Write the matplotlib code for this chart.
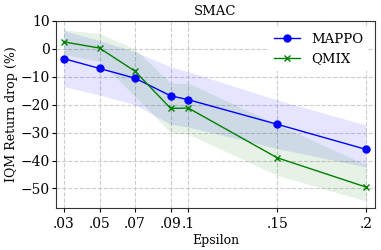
import matplotlib
matplotlib.use("Agg")
import matplotlib.pyplot as plt

eps = [0.03, 0.05, 0.07, 0.09, 0.1, 0.15, 0.2]
xtick_labels = [".03", ".05", ".07", ".09", ".1", ".15", ".2"]

mappo = [-3.5, -7.0, -10.5, -16.8, -18.2, -27.0, -36.0]
mappo_lo = [-13.5, -16.5, -20.0, -27.0, -28.0, -35.7, -42.3]
mappo_hi = [6.5, 3.0, -1.0, -6.4, -8.2, -18.3, -27.3]

qmix = [2.5, 0.3, -8.0, -21.3, -21.2, -39.0, -49.5]
qmix_lo = [-2.0, -4.5, -17.0, -30.0, -30.5, -45.3, -54.5]
qmix_hi = [6.8, 5.5, 0.0, -12.3, -12.3, -27.0, -41.5]

plt.rcParams['font.family'] = ['DejaVu Serif']
plt.rcParams['font.size'] = 10

fig = plt.figure(figsize=(3.81, 2.5), dpi=100)
ax = fig.add_axes([0.147, 0.168, 0.837, 0.748])

ax.fill_between(eps, mappo_lo, mappo_hi, color='blue', alpha=0.1, linewidth=0)
ax.fill_between(eps, qmix_lo, qmix_hi, color='green', alpha=0.1, linewidth=0)
ax.plot(eps, mappo, color='blue', marker='o', markersize=5, linewidth=1, label='MAPPO')
ax.plot(eps, qmix, color='green', marker='x', markersize=5, linewidth=1, label='QMIX')

ax.set_xticks(eps)
ax.set_xticklabels(xtick_labels)
ax.set_xlim(0.0255, 0.205)
ax.set_ylim(-57, 10)
ax.set_yticks([10, 0, -10, -20, -30, -40, -50])
ax.tick_params(labelsize=10, length=3)
ax.tick_params(axis='y', pad=1.5)
ax.grid(True, linestyle='--', color='#cccccc', linewidth=0.8)
ax.set_axisbelow(True)
ax.set_title('SMAC', fontsize=9.5, pad=4)
ax.set_xlabel('Epsilon', fontsize=9, labelpad=2)
ax.set_ylabel('IQM Return drop (%)', fontsize=9)
ax.yaxis.set_label_coords(-0.118, 0.5)
for s in ax.spines.values():
    s.set_color('#333333')
leg = ax.legend(loc='upper right', frameon=True, fontsize=9.5, edgecolor='none', facecolor='white', framealpha=1)

fig.savefig('out.png', dpi=100)
